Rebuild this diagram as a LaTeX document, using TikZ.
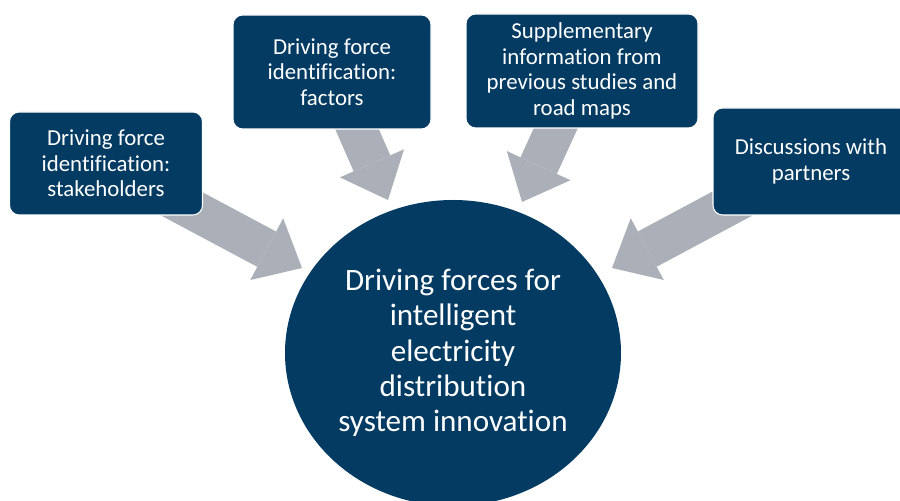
\documentclass[tikz,border=0pt]{standalone}
\usepackage{fontspec}
\setmainfont[Ligatures=NoCommon]{Carlito}
\usetikzlibrary{arrows.meta,backgrounds,shapes.geometric}
\definecolor{boxfill}{HTML}{033B63}
\definecolor{flowfill}{HTML}{ABAFB8}

\begin{document}
\begin{tikzpicture}[
  font=\fontsize{13}{14.5}\selectfont,
  source/.style={
    draw=white, fill=boxfill, text=white, line width=0.6pt,
    rounded corners=5.5pt, align=center, inner sep=0pt
  },
  goal/.style={
    ellipse, fill=boxfill, text=white, align=center, inner sep=0pt,
    minimum width=6.72cm, minimum height=6.12cm,
    font=\fontsize{17.7}{20.1}\selectfont
  },
  flow/.style={
    draw=flowfill, line width=8mm,
    -{Triangle[length=8mm, width=14mm, line width=0pt]}
  }
]

\path[use as bounding box, clip] (0,0) rectangle (18,10.02);

% Input sources around the top.
\node[source, minimum width=3.86cm, minimum height=2.06cm] (stakeholders)
  at (2.12, 6.75) {Driving force\\identification:\\stakeholders};
\node[source, minimum width=3.96cm, minimum height=2.28cm] (factors)
  at (6.64, 8.58) {Driving force\\identification:\\factors};
\node[source, minimum width=4.64cm, minimum height=2.28cm] (studies)
  at (11.64, 8.60) {Supplementary\\information from\\previous studies and\\road maps};
\node[source, minimum width=3.92cm, minimum height=2.14cm] (partners)
  at (16.22, 6.79) {Discussions with\\partners};

% Central result.
\node[goal] (drivers) at (9.06, 2.96)
  {Driving forces for\\intelligent\\electricity\\distribution\\system innovation};

% Arrow heads stop just short of the ellipse.
\coordinate (tipStakeholders) at (6.04, 4.66);
\coordinate (tipFactors) at (7.76, 6.02);
\coordinate (tipStudies) at (10.44, 5.98);
\coordinate (tipPartners) at (12.24, 4.66);

\begin{scope}[on background layer]
  \draw[flow] (stakeholders.center) -- (tipStakeholders);
  \draw[flow] (factors.center) -- (tipFactors);
  \draw[flow] (studies.center) -- (tipStudies);
  \draw[flow] (partners.center) -- (tipPartners);
\end{scope}

\end{tikzpicture}
\end{document}
